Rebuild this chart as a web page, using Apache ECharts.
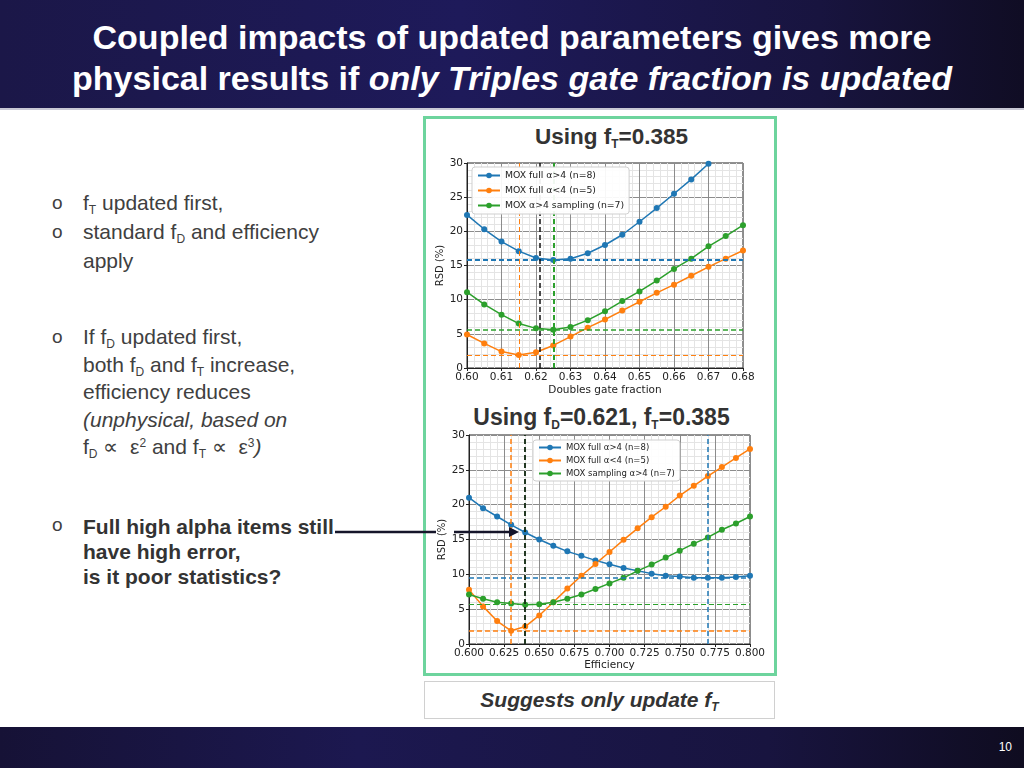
<!DOCTYPE html>
<html>
<head>
<meta charset="utf-8">
<script src="https://cdn.jsdelivr.net/npm/echarts@6/dist/echarts.min.js"></script>
<style>
body { margin: 0; width: 1024px; height: 768px; position: relative; overflow: hidden; background: #fff;
       font-family: "Liberation Sans", Arial, sans-serif; }
#head { position: absolute; left: 0; top: 0; width: 1024px; height: 108px;
        background: linear-gradient(90deg, #1b1748 0%, #1e1a5a 45%, #18143f 80%, #100d24 100%);
        border-bottom: 2px solid #c8c8d4; }
#title { position: absolute; left: 0; top: 17px; width: 1024px; text-align: center; color: #fff;
         font-weight: bold; font-size: 34px; line-height: 41px; }
#foot { position: absolute; left: 0; top: 727px; width: 1024px; height: 41px;
        background: linear-gradient(90deg, #161236 0%, #1c1850 35%, #18143f 75%, #0f0c20 100%); }
#pnum { position: absolute; right: 12px; top: 740px; color: #fff; font-size: 12px; }
#gbox { position: absolute; left: 423px; top: 116px; width: 348px; height: 554px; border: 3px solid #6dd49d; }
#sbox { position: absolute; left: 424px; top: 681px; width: 349px; height: 36px; border: 1px solid #d0d0d0;
        text-align: center; line-height: 36px; font-size: 21px; font-weight: bold; font-style: italic; color: #333; }
.ct { position: absolute; text-align: center; font-weight: bold; font-size: 22.5px; color: #333; }
.txt { position: absolute; left: 83px; font-size: 21px; color: #404040; white-space: nowrap; }
.bul { position: absolute; left: 52px; font-size: 19px; color: #404040; }
sub { font-size: 12px; vertical-align: -4px; line-height: 0; }
sup { font-size: 12px; vertical-align: 7px; line-height: 0; }
#chart { position: absolute; left: 0; top: 0; width: 1024px; height: 768px; }
</style>
</head>
<body>
<div id="head"></div>
<div id="title">Coupled impacts of updated parameters gives more<br>physical results if <i>only Triples gate fraction is updated</i></div>
<div id="foot"></div>
<div id="pnum">10</div>
<div id="gbox"></div>
<div id="sbox">Suggests only update f<sub>T</sub></div>

<div class="ct" style="left:424px;width:375px;top:124px;">Using f<sub>T</sub>=0.385</div>
<div class="ct" style="left:424px;width:355px;top:404px;font-size:23px;">Using f<sub>D</sub>=0.621, f<sub>T</sub>=0.385</div>

<div class="bul" style="top:188px;line-height:29px;">o</div>
<div class="bul" style="top:217px;line-height:29px;">o</div>
<div class="txt" style="top:188px;line-height:29px;">
f<sub>T</sub> updated first,<br>
standard f<sub>D</sub> and efficiency<br>
apply
</div>

<div class="bul" style="top:323px;line-height:27.5px;">o</div>
<div class="txt" style="top:323px;line-height:27.5px;">
If f<sub>D</sub> updated first,<br>
both f<sub>D</sub> and f<sub>T</sub> increase,<br>
efficiency reduces<br>
<i>(unphysical, based on</i><br>
f<sub>D</sub> &#8733;&nbsp; &#949;<sup>2</sup> and f<sub>T</sub> &#8733;&nbsp; &#949;<sup>3</sup><i>)</i>
</div>

<div class="bul" style="top:512px;line-height:25px;">o</div>
<div class="txt" style="top:514px;line-height:25px;font-weight:bold;color:#333;">
Full high alpha items still<br>
have high error,<br>
is it poor statistics?
</div>

<div id="chart"></div>

<script>
// top chart: RSD vs doubles gate fraction
const topFracs = [0.600, 0.605, 0.610, 0.615, 0.620, 0.625, 0.630, 0.635, 0.640,
                  0.645, 0.650, 0.655, 0.660, 0.665, 0.670, 0.675, 0.680];
const topFullHigh = [22.4, 20.3, 18.5, 17.1, 16.1, 15.8, 16.0, 16.8, 18.0, 19.5, 21.4, 23.4, 25.5, 27.6, 29.9, 32.2];
const topFullLow  = [4.9, 3.6, 2.4, 1.9, 2.3, 3.3, 4.6, 5.9, 7.1, 8.4, 9.7, 11.0, 12.2, 13.5, 14.8, 16.0, 17.2];
const topSampling = [11.1, 9.3, 7.8, 6.5, 5.8, 5.6, 6.0, 7.0, 8.3, 9.8, 11.2, 12.8, 14.5, 16.0, 17.8, 19.3, 20.9];
const topMinRsd  = [15.8, 1.9, 5.6];      // blue, orange, green
const topBestX   = [0.625, 0.615, 0.625];
const topUsedX   = 0.621;

// bottom chart: RSD vs efficiency
const effs = [0.60, 0.61, 0.62, 0.63, 0.64, 0.65, 0.66, 0.67, 0.68, 0.69, 0.70,
              0.71, 0.72, 0.73, 0.74, 0.75, 0.76, 0.77, 0.78, 0.79, 0.80];
const botFullHigh = [21.0, 19.5, 18.3, 17.1, 16.0, 15.0, 14.1, 13.3, 12.65, 12.0, 11.45,
                     10.9, 10.5, 10.1, 9.8, 9.7, 9.5, 9.5, 9.5, 9.6, 9.8];
const botFullLow  = [7.8, 5.4, 3.3, 1.9, 2.5, 4.1, 6.0, 7.95, 9.8, 11.5, 13.2,
                     14.95, 16.6, 18.2, 19.7, 21.3, 22.7, 24.1, 25.4, 26.7, 28.0];
const botSampling = [7.1, 6.5, 6.0, 5.8, 5.65, 5.7, 6.0, 6.5, 7.1, 7.9, 8.7,
                     9.5, 10.5, 11.4, 12.4, 13.4, 14.4, 15.3, 16.4, 17.3, 18.3];
const botMinRsd = [9.5, 1.95, 5.65];
const botBestX  = [0.77, 0.63, 0.64];
const botUsedX  = 0.64;

const topNames = ['MOX full \u03b1>4 (n=8)', 'MOX full \u03b1<4 (n=5)', 'MOX \u03b1>4 sampling (n=7)'];
const botNames = ['MOX full \u03b1>4 (n=8)', 'MOX full \u03b1<4 (n=5)', 'MOX sampling \u03b1>4 (n=7)'];
const colors = ['#1f77b4', '#ff7f0e', '#2ca02c'];

const FONT = 'DejaVu Sans';

function pairs(xs, ys) {
    return ys.map((y, i) => [xs[i], y]);
}

function xAxis(gi, min, max, step, digits, name, gap) {
    return {
        type: 'value', gridIndex: gi, min: min, max: max, interval: step,
        name: name, nameLocation: 'middle', nameGap: gap,
        nameTextStyle: { fontFamily: FONT, fontSize: 10.5, color: '#222' },
        axisLine: { show: true, onZero: false, lineStyle: { color: '#222', width: 1 } },
        axisTick: { show: true, length: 3, lineStyle: { color: '#222' } },
        axisLabel: { fontFamily: FONT, fontSize: 10.5, color: '#222', margin: 4,
                     formatter: v => v.toFixed(digits) },
        splitLine: { show: true, lineStyle: { color: '#8c8c8c', width: 1 } },
        minorTick: { show: false, splitNumber: 5 },
        minorSplitLine: { show: true, lineStyle: { color: '#e4e4e4', width: 1 } }
    };
}

function yAxis(gi, gap) {
    return {
        type: 'value', gridIndex: gi, min: 0, max: 30, interval: 5,
        name: 'RSD (%)', nameLocation: 'middle', nameGap: gap, nameRotate: 90,
        nameTextStyle: { fontFamily: FONT, fontSize: 10, color: '#222' },
        axisLine: { show: true, onZero: false, lineStyle: { color: '#222', width: 1 } },
        axisTick: { show: true, length: 3, lineStyle: { color: '#222' } },
        axisLabel: { fontFamily: FONT, fontSize: 10.5, color: '#222', margin: 4 },
        splitLine: { show: true, lineStyle: { color: '#8c8c8c', width: 1 } },
        minorTick: { show: false, splitNumber: 5 },
        minorSplitLine: { show: true, lineStyle: { color: '#e4e4e4', width: 1 } }
    };
}

function dashed(color, w) {
    return { color: color, width: w, type: [5, 3] };
}

function series(gi, name, color, data, marks) {
    return {
        type: 'line', name: name, xAxisIndex: gi, yAxisIndex: gi,
        data: data, color: color, symbol: 'circle', symbolSize: 6,
        lineStyle: { width: 1.5, color: color }, itemStyle: { color: color },
        emphasis: { disabled: true }, clip: true,
        // precision 4: the default of 2 would round 0.625 to 0.63
        markLine: { silent: true, symbol: 'none', precision: 4, label: { show: false }, data: marks }
    };
}

// line widths of the reference lines, per series
const topHW = [2, 1, 1.5], topVW = [2, 1, 2];
const botHW = [1.5, 1.5, 1], botVW = [1.5, 1.5, 1.5];

function refMarks(i, lv, bx, hw, vw) {
    return [
        { yAxis: lv[i], lineStyle: dashed(colors[i], hw[i]) },
        { xAxis: bx[i], lineStyle: dashed(colors[i], vw[i]) }
    ];
}

const topData = [topFullHigh, topFullLow, topSampling];
const botData = [botFullHigh, botFullLow, botSampling];

const allSeries = [];
// blue first, then orange, then green (green vertical drawn over blue)
[0, 1, 2].forEach(i => {
    const m = refMarks(i, topMinRsd, topBestX, topHW, topVW);
    if (i === 0) m.push({ xAxis: topUsedX, lineStyle: dashed('#111', 1.5) });
    allSeries.push(series(0, topNames[i], colors[i], pairs(topFracs, topData[i]), m));
});
[0, 1, 2].forEach(i => {
    const m = refMarks(i, botMinRsd, botBestX, botHW, botVW);
    if (i === 2) m.push({ xAxis: botUsedX, lineStyle: dashed('#111', 1.5) });
    allSeries.push(series(1, botNames[i], colors[i], pairs(effs, botData[i]), m));
});

const legendBase = {
    orient: 'vertical', itemHeight: 7, z: 20,
    backgroundColor: 'rgba(255,255,255,0.93)', borderColor: '#cfcfcf', borderWidth: 1,
    borderRadius: 3, selectedMode: false
};

var chart = echarts.init(document.getElementById('chart'));
var option = {
    animation: false,
    grid: [
        { left: 467, top: 163, width: 276, height: 205, show: true, borderColor: '#222', borderWidth: 1 },
        { left: 469, top: 435, width: 281, height: 209, show: true, borderColor: '#222', borderWidth: 1 }
    ],
    xAxis: [
        xAxis(0, 0.60, 0.68, 0.01, 2, 'Doubles gate fraction', 17),
        xAxis(1, 0.60, 0.80, 0.025, 3, 'Efficiency', 15)
    ],
    yAxis: [yAxis(0, 19), yAxis(1, 19)],
    legend: [
        Object.assign({ left: 472, top: 167, data: topNames, itemWidth: 22, itemGap: 6, padding: [4, 5],
                        textStyle: { fontFamily: FONT, fontSize: 9.3, color: '#222' } }, legendBase),
        Object.assign({ left: 533, top: 440, data: botNames, itemWidth: 22, itemGap: 4, padding: [3, 5],
                        textStyle: { fontFamily: FONT, fontSize: 8.5, color: '#222' } }, legendBase)
    ],
    graphic: [
        { type: 'line', z: 100, shape: { x1: 335, y1: 532, x2: 436, y2: 532 },
          style: { stroke: '#15152a', lineWidth: 2.5 } },
        { type: 'line', z: 100, shape: { x1: 454, y1: 532, x2: 510, y2: 532 },
          style: { stroke: '#15152a', lineWidth: 2.5 } },
        { type: 'polygon', z: 100, shape: { points: [[509, 527], [519, 532], [509, 537]] },
          style: { fill: '#15152a' } }
    ],
    series: allSeries
};
option && chart.setOption(option);
</script>
</body>
</html>
